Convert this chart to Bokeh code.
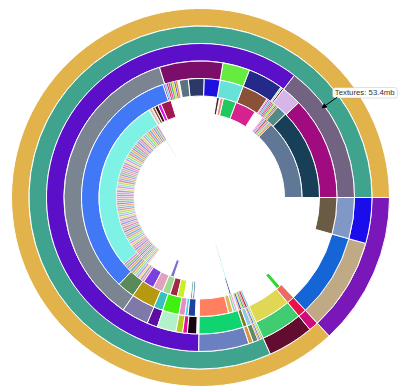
import math
from bokeh.plotting import figure
from bokeh.models import ColumnDataSource, BoxAnnotation, Label, Arrow, NormalHead, Range1d
from bokeh.embed import file_html
from bokeh.resources import INLINE

# ---------------- data (sizes in mb) ----------------
TOTAL_MB = 366.2
tooltip_name = "Textures"
tooltip_mb = 53.4

VIVID = ["#F08020", "#2040E0", "#E0D020", "#20B040", "#E040A0", "#C01010",
         "#60C0E0", "#8040C0", "#FF60C0", "#F0F0F0"]
PASTEL = ["#E080D0", "#80D080", "#A080E0", "#F0B060", "#70B0E8", "#E08888",
          "#B8E060", "#80D8C8", "#C898F0", "#E8D870", "#A0A0C0", "#F090B8",
          "#8898F0", "#D8B088"]

ring1_mb = [318.3, 47.9]
ring1_col = ["#E2B34A", "#7A17B8"]

ring2_mb = [299.1, 15.9, 3.3, 32.1, 15.8]
ring2_col = ["#40A38E", "#620C30", "#D20A7A", "#BFAA85", "#1A0DEB"]

ring3_mb = [53.4, 220.6, 19.3, 1.7, 2.0, 0.5, 0.5, 0.6, 0.5, 15.9, 3.3, 32.1, 15.8]
ring3_col = ["#736383", "#5B0FC9", "#6A80C0", "#D8963A", "#5A8A6A", "v", "v", "v", "v",
             "#40CC70", "#E8124A", "#1565D6", "#8098C8"]

ring4_mb = [44.8, 8.6, 0.8, 0.7, 15.3, 11.7, 27.5, 130.2, 11.7, 4.6, 8.2, 2.9, 2.0, 4.0,
            1.0, 19.3, 1.7, 2.0, 0.5, 0.6, 0.5, 0.5, 15.9, 3.3, 32.1, 15.8]
ring4_col = ["#A00C80", "#D6B6E9", "#8B1010", "#60D8F0", "#232A8A", "#66EB40", "#7B0E6B",
             "#7A8591", "#7F79AA", "#5B10A0", "#B2F2CA", "#B4CC20", "#E0109A", "#140510",
             None, "#0FD470", "#7A7A2A", "#90C8E8", "v", "v", "v", "v", "#E0D855",
             "#EB6A62", None, "#6A5B45"]

ring5_mb = [45.3, 5.1, 0.8, 0.6, 0.9, 0.7, 0.8, 0.6, 0.9, 0.7, 0.6, 13.2, 11.7, 7.9, 7.8,
            4.5, 0.9, 1.0, 0.8, 1.1, 0.9, 1.0, 0.8, 0.9, 0.8, 120.5, 8.7, 11.7, 4.6, 8.2,
            3.0, 1.5, 3.6, 2.0, 14.5, 2.3, 1.3, 0.7, 0.8, 0.6, 0.9, 0.7, 0.8, 0.6, 0.9,
            0.8, 16.3, 2.0]
ring5_col = ["#183F58", "#548A8A", "v", "v", "v", "v", "v", "v", "v", "v", "v",
             "#8B5038", "#66E2D8", "#2010E0", "#2B3868", "#5A7382",
             "v", "v", "v", "v", "v", "v", "v", "v", "v",
             "#4178F5", "#5A8A5A", "#B59A10", "#3ABFBF", "#40F010", "#E090C8", "#40D8E0",
             "#2040A0", None, "#FF7F60", "#E8B060", "#80E0A0",
             "v", "v", "v", "v", "v", "v", "v", "v", "v", None, "#30D830"]

ring6_mb = [46.8, 0.7, 0.6, 0.8, 0.7, 0.6, 0.8, 0.7, 0.6, 0.6, 5.6, 12.2, 7.6, 1.8, 0.5,
            1.5, 26.7, 6.1, 2.0, 2.0, 1.5, 0.5, 0.6, 0.5, 0.6, 102.2,
            1.2, 1.4, 1.1, 1.3, 1.5, 1.2, 1.3, 1.2, 1.4, 1.1, 1.3, 1.3,
            6.4, 5.8, 4.6, 4.3, 3.9, 3.8, 1.0, 0.3, 1.0, 20.4, 1.0]
ring6_col = ["#607896", "v", "v", "v", "v", "v", "v", "v", "v", "v", None,
             "#D6228E", "#20C860", "#F08A80", None, "#3A2A2A", None,
             "#A01850", "#E010F0", "#3A1010", "#8A5038", "v", "v", "v", "v", "#7DF2E5",
             "p", "p", "p", "p", "p", "p", "p", "p", "p", "p", "p", "p",
             "#7B40E0", "#E0A0BE", "#A0D890", "#A02848", "#C8F020", None, "#40A040",
             None, "#3050C0", None, "#204A70"]

ring7_files_mb = [1.4, 1.6, 1.3, 1.5, 1.5, 1.4, 1.6, 1.5, 1.3, 1.5,
                  1.5, 1.3, 1.6, 1.4, 1.5, 1.5, 1.3, 1.6, 1.4, 1.5,
                  1.6, 1.4, 1.5, 1.3, 1.5, 1.6, 1.4, 1.5, 1.3, 1.5,
                  1.3, 1.5, 1.4, 1.6, 1.5, 1.3, 1.5, 1.4, 1.6, 1.5,
                  1.5, 1.5, 1.3, 1.6, 1.4, 1.5, 1.4, 1.5, 1.6, 1.3,
                  1.4, 1.5, 1.6, 1.3, 1.5, 1.4, 1.6, 1.3, 1.5, 1.5,
                  1.6, 1.3, 1.5, 1.5, 1.4, 1.6, 1.3, 1.5, 1.4, 1.5]
ring7_more_mb = [1.1, 1.3, 1.2, 1.0, 1.2, 1.1, 1.3, 1.0, 1.2, 0.8]
ring7_mb = [122.6] + ring7_files_mb + ring7_more_mb + [17.3, 2.5, 36.1, 1.0]
ring7_col = [None] + ["p"] * len(ring7_files_mb) + ["p"] * len(ring7_more_mb) + \
            [None, "#7B70D0", None, "#80F0F0"]

ring8_mb = [122.6, 0.7, 169.0, 0.9]
ring8_col = [None, "#4060F0", None, "#10C060"]

rings = [(ring1_mb, ring1_col), (ring2_mb, ring2_col), (ring3_mb, ring3_col),
         (ring4_mb, ring4_col), (ring5_mb, ring5_col), (ring6_mb, ring6_col),
         (ring7_mb, ring7_col), (ring8_mb, ring8_col)]

# ---------------- layout ----------------
R_OUTER = 189.0
RING_W = 17.5

p = figure(width=404, height=392, output_backend="svg", toolbar_location=None,
           x_range=Range1d(-200, 204), y_range=Range1d(-195, 197),
           min_border=0, background_fill_color="white", border_fill_color="white")
p.xaxis.visible = False
p.yaxis.visible = False
p.grid.visible = False
p.outline_line_color = None

for level, (sizes, cols) in enumerate(rings):
    outer = R_OUTER - RING_W * level
    inner = outer - RING_W
    starts, ends, fills, widths = [], [], [], []
    cum = 0.0
    vi = pi = 0
    for s, c in zip(sizes, cols):
        a0 = cum / TOTAL_MB * 2 * math.pi
        cum += s
        a1 = cum / TOTAL_MB * 2 * math.pi
        if c is None:
            continue
        w = 1.0
        if c == "v":
            c = VIVID[vi % len(VIVID)]; vi += 1; w = 0.5
        elif c == "p":
            c = PASTEL[pi % len(PASTEL)]; pi += 1; w = 0.5
        starts.append(a0); ends.append(a1); fills.append(c); widths.append(w)
    src = ColumnDataSource(dict(start=starts, end=ends, color=fills, lw=widths))
    p.annular_wedge(x=0, y=0, inner_radius=inner, outer_radius=outer,
                    start_angle="start", end_angle="end", direction="anticlock",
                    fill_color="color", line_color="white", line_width="lw", source=src)

# tooltip
box = BoxAnnotation(left=132, right=197, bottom=99.5, top=110, fill_color="white",
                    fill_alpha=0.95, line_color="#9A9A9A", line_width=1, border_radius=3)
p.add_layout(box)
p.add_layout(Arrow(end=NormalHead(size=4, fill_color="black", line_color="black"),
                   x_start=136.7, y_start=100.3, x_end=121.7, y_end=89.7,
                   line_color="black", line_width=1))
p.add_layout(Label(x=134.3, y=104.7, text=f"{tooltip_name}: {tooltip_mb}mb",
                   text_font="Liberation Sans", text_font_size="7.8px",
                   text_baseline="middle", text_color="#333333"))

open("out.html", "w").write(file_html(p, INLINE))
